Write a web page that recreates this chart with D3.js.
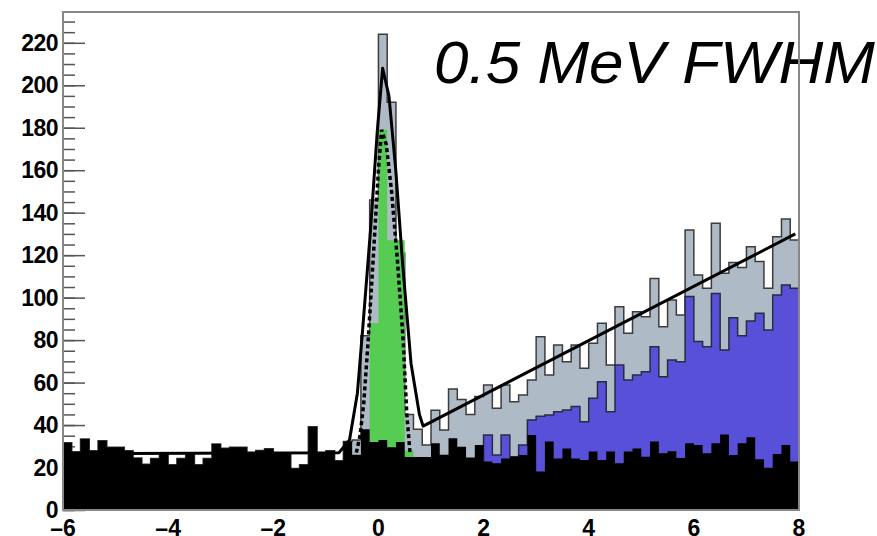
<!DOCTYPE html>
<html>
<head>
<meta charset="utf-8">
<script src="https://cdn.jsdelivr.net/npm/d3@7"></script>
<style>
  body { margin: 0; background: #fff; }
  svg { display: block; }
</style>
</head>
<body>
<div id="chart"></div>
<script>
// binning of every histogram: 84 bins of 1/6 MeV from -6 to 8
var binLow = -6;
var binWidth = 1 / 6;

// background (black), read bin by bin
var black = [
    31.7, 27.4, 33.4, 27.9, 32.6, 29.5, 29.5, 27.9, 24.5, 21.6,
    24.3, 26.5, 21.3, 24.3, 26.5, 21.3, 24.3, 31.1, 29.1, 29.5,
    29.5, 27.0, 28.0, 28.9, 26.7, 26.7, 19.6, 21.3, 39.2, 27.0,
    27.9, 23.2, 32.2, 26.0, 38.0, 32.0, 33.0, 29.5, 32.0, 25.0,
    25.0, 25.0, 31.4, 26.0, 33.8, 29.8, 24.7, 30.6, 22.8, 22.0,
    24.3, 25.1, 25.9, 35.3, 18.1, 32.2, 24.3, 29.0, 24.3, 23.5,
    27.5, 23.5, 27.5, 22.0, 27.5, 29.0, 25.1, 32.2, 26.7, 27.7,
    24.5, 31.4, 30.6, 26.7, 31.4, 35.6, 25.9, 31.4, 34.2, 23.9,
    19.9, 26.4, 30.6, 22.8
];

// background + second component (blue), stacked height
var blue = [
    0, 0, 0, 0, 0, 0, 0, 0, 0, 0,
    0, 0, 0, 0, 0, 0, 0, 0, 0, 0,
    0, 0, 0, 0, 0, 0, 0, 0, 0, 0,
    0, 0, 0, 0, 0, 0, 0, 0, 0, 0,
    0, 0, 0, 0, 0, 0, 0, 0, 35.3, 25.9,
    35.3, 25.1, 30.6, 42.4, 44.2, 44.7, 46.3, 47.1, 48.7, 41.6,
    52.6, 60.4, 46.3, 68.3, 61.2, 63.6, 65.1, 76.9, 62.8, 70.6,
    69.8, 100.5, 79.3, 76.9, 102.0, 75.4, 90.5, 82.0, 89.0, 92.6,
    84.8, 101.2, 106.0, 104.4
];

// background + peak (green), stacked height
var green = [
    0, 0, 0, 0, 0, 0, 0, 0, 0, 0,
    0, 0, 0, 0, 0, 0, 0, 0, 0, 0,
    0, 0, 0, 0, 0, 0, 0, 0, 0, 0,
    0, 0, 0, 0, 0, 88, 179, 127, 127, 28,
    0, 0, 0, 0, 0, 0, 0, 0, 0, 0,
    0, 0, 0, 0, 0, 0, 0, 0, 0, 0,
    0, 0, 0, 0, 0, 0, 0, 0, 0, 0,
    0, 0, 0, 0, 0, 0, 0, 0, 0, 0,
    0, 0, 0, 0
];

// data (grey)
var data = [
    31.7, 27.4, 33.4, 27.9, 32.6, 29.5, 29.5, 27.9, 24.5, 21.6,
    24.3, 26.5, 21.3, 24.3, 26.5, 21.3, 24.3, 31.1, 29.1, 29.5,
    29.5, 27.0, 28.0, 28.9, 26.7, 26.7, 19.6, 21.3, 39.2, 27.0,
    27.9, 23.2, 32.2, 33.0, 82.0, 146.0, 224.0, 192.0, 121.0, 45.0,
    38.0, 30.6, 47.0, 37.7, 57.0, 52.0, 45.0, 53.4, 58.9, 47.9,
    58.9, 51.0, 54.2, 61.2, 81.6, 63.6, 77.7, 69.8, 77.7, 66.7,
    78.5, 87.9, 68.3, 95.7, 83.2, 93.4, 91.0, 109.0, 86.3, 98.9,
    91.8, 131.8, 110.7, 104.4, 135.0, 111.5, 116.5, 114.2, 124.0, 117.0,
    104.4, 128.7, 137.0, 127.1
];

// full fit (solid) and peak component (dotted)
var fitX = [-6, -0.75, -0.55, -0.4, -0.3, -0.15, -0.02, 0.08, 0.2, 0.33, 0.46, 0.62, 0.78, 0.85, 7.93];
var fitY = [26.5, 27, 33, 55, 85, 132, 179, 208, 195, 160, 116, 69, 45, 39.5, 130];
var peakX = [-0.42, -0.35, -0.28, -0.2, -0.1, 0, 0.06, 0.15, 0.25, 0.36, 0.47, 0.54, 0.6];
var peakY = [27, 35, 50, 78, 118, 160, 179, 172, 150, 118, 80, 45, 27];

var xTicks = [-6, -4, -2, 0, 2, 4, 6, 8];
var yTicks = [0, 20, 40, 60, 80, 100, 120, 140, 160, 180, 200, 220];
var title = "0.5 MeV FWHM";

var W = 877, H = 536;
var svg = d3.select("#chart").append("svg")
    .attr("width", W)
    .attr("height", H);

var x = d3.scaleLinear().domain([-6, 8]).range([63, 799]);
var y = d3.scaleLinear().domain([0, 234.5]).range([510, 12]);

/* y axis ticks, drawn under the histograms as ROOT does */
var minor = d3.range(0, 235, 5);
svg.append("g")
    .attr("transform", "translate(" + x.range()[0] + ",0)")
    .call(d3.axisRight(y).tickValues(minor).tickSize(12).tickFormat(""))
    .call(function(g) { g.select(".domain").remove(); })
    .selectAll("line").attr("stroke", "#555").attr("stroke-width", 1.5);
svg.append("g")
    .attr("transform", "translate(" + x.range()[0] + ",0)")
    .call(d3.axisRight(y).tickValues(yTicks).tickSize(22).tickFormat(""))
    .call(function(g) { g.select(".domain").remove(); })
    .selectAll("line").attr("stroke", "#555").attr("stroke-width", 1.5);

// histogram helpers: step points for the bins that hold something, plus the closing edge
function only(vals) {
    var first = vals.findIndex(function(v) { return v > 0; });
    var last = vals.length - 1;
    while (vals[last] <= 0) last--;
    var pts = [];
    for (var i = first; i <= last; i++) pts.push([binLow + i * binWidth, vals[i]]);
    pts.push([binLow + (last + 1) * binWidth, vals[last]]);
    return pts;
}

var area = d3.area()
    .x(function(d) { return x(d[0]); })
    .y0(y(0))
    .y1(function(d) { return y(d[1]); })
    .curve(d3.curveStepAfter);

function outline(pts) {
    var p = [[pts[0][0], 0]].concat(pts).concat([[pts[pts.length - 1][0], 0]]);
    return d3.line()
        .x(function(d) { return x(d[0]); })
        .y(function(d) { return y(d[1]); })
        .curve(d3.curveStepAfter)(p);
}

function drawHist(vals, fill, stroke) {
    var pts = only(vals);
    svg.append("path")
        .attr("d", area(pts))
        .attr("fill", fill)
        .attr("stroke", "none");
    if (stroke) {
        svg.append("path")
            .attr("d", outline(pts))
            .attr("fill", "none")
            .attr("stroke", stroke)
            .attr("stroke-width", 1.5);
    }
}

drawHist(data, "#aebac6", "#3c3c3c");
drawHist(blue, "#5850d8", "#2a2a40");
drawHist(green, "#56cc52", null);
drawHist(black, "#000", null);

var curve = d3.line()
    .x(function(d) { return x(d[0]); })
    .y(function(d) { return y(d[1]); });

svg.append("path")
    .attr("d", curve(peakX.map(function(v, i) { return [v, peakY[i]]; })))
    .attr("fill", "none")
    .attr("stroke", "#000")
    .attr("stroke-width", 3.5)
    .attr("stroke-dasharray", "4,3");

svg.append("path")
    .attr("d", curve(fitX.map(function(v, i) { return [v, fitY[i]]; })))
    .attr("fill", "none")
    .attr("stroke", "#000")
    .attr("stroke-width", 3)
    .attr("stroke-linejoin", "round");

/* title, in front of the frame's right edge like the original */
svg.append("text")
    .attr("x", 434)
    .attr("y", 83)
    .attr("textLength", 441)
    .attr("lengthAdjust", "spacingAndGlyphs")
    .style("font-family", "'Liberation Sans', Arial, sans-serif")
    .style("font-style", "italic")
    .style("font-size", "59px")
    .style("fill", "#000")
    .text(title);

// frame
svg.append("rect")
    .attr("x", x.range()[0])
    .attr("y", y.range()[1])
    .attr("width", x.range()[1] - x.range()[0])
    .attr("height", y.range()[0] - y.range()[1])
    .attr("fill", "none")
    .attr("stroke", "#888")
    .attr("stroke-width", 2);

var labelFont = "'Liberation Sans', Arial, sans-serif";
svg.append("g").selectAll("text")
    .data(yTicks)
    .enter()
    .append("text")
    .attr("x", 58)
    .attr("y", function(d) { return y(d) + 8; })
    .attr("text-anchor", "end")
    .style("font-family", labelFont)
    .style("font-weight", "bold")
    .style("font-size", "23px")
    .style("letter-spacing", "-0.5px")
    .text(function(d) { return d; });

svg.append("g").selectAll("text")
    .data(xTicks)
    .enter()
    .append("text")
    .attr("x", function(d) { return x(d); })
    .attr("y", 536)
    .attr("text-anchor", "middle")
    .style("font-family", labelFont)
    .style("font-weight", "bold")
    .style("font-size", "23px")
    .text(function(d) { return d < 0 ? "\u2013" + Math.abs(d) : d; });
</script>
</body>
</html>
